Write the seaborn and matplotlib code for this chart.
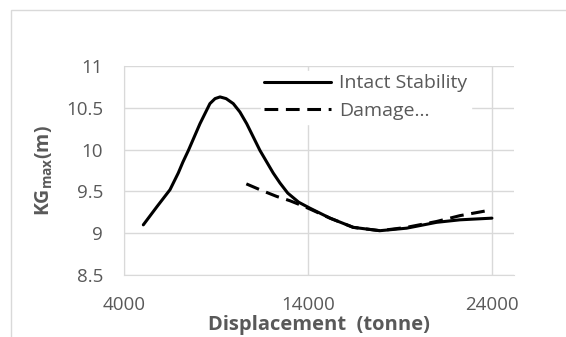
import pandas as pd
import matplotlib.pyplot as plt
import seaborn as sns
from matplotlib.patches import Rectangle

# KGmax curves
intact_disp = [5050, 5800, 6500, 6950, 7200, 7500, 8130, 8670, 8950, 9220, 9550, 9940,
               10300, 10670, 11390, 12110, 12480, 12900, 13500, 14100, 15200, 16460,
               17910, 19360, 20990, 22260, 24000]
intact_kg = [9.10, 9.32, 9.52, 9.72, 9.85, 9.99, 10.31, 10.55, 10.61, 10.63, 10.61, 10.55,
             10.45, 10.31, 9.99, 9.72, 9.60, 9.48, 9.37, 9.30, 9.18, 9.07, 9.03, 9.06,
             9.13, 9.16, 9.18]
damage_disp = [10650, 11500, 12300, 13000, 13570, 14100, 15200, 16460, 17910, 19360,
               20990, 22260, 24000]
damage_kg = [9.59, 9.51, 9.44, 9.39, 9.34, 9.29, 9.18, 9.07, 9.03, 9.07, 9.14, 9.21, 9.28]
x_ticks = [4000, 14000, 24000]
y_ticks = [8.5, 9, 9.5, 10, 10.5, 11]
y_tick_labels = ["8.5", "9", "9.5", "10", "10.5", "11"]

sns.set_style("white")
plt.rcParams['font.family'] = ['Open Sans', 'DejaVu Sans']
grey = "#595959"
grid = "#d9d9d9"

W, H = 566, 337
fig = plt.figure(figsize=(W / 100, H / 100), dpi=100)
fig.patches.append(Rectangle((11 / W, -0.1), 1.2, (H - 10) / H + 0.1,
                             transform=fig.transFigure, fill=False,
                             edgecolor=grid, linewidth=1))
ax = fig.add_axes([124 / W, 1 - 275 / H, (514 - 124) / W, (275 - 66) / H])

sns.lineplot(x=intact_disp, y=intact_kg, ax=ax, color="black", linewidth=2.2,
             label="Intact Stability", sort=False)
sns.lineplot(x=damage_disp, y=damage_kg, ax=ax, color="black", linewidth=2.2,
             linestyle=(0, (4.5, 2.5)), label="Damage...", sort=False)
for ln in ax.get_lines():
    ln.set_solid_joinstyle("round")
    ln.set_solid_capstyle("round")

ax.set_xlim(4000, 25200)
ax.set_ylim(8.5, 11)
ax.set_xticks(x_ticks)
ax.set_yticks(y_ticks)
ax.set_yticklabels(y_tick_labels)
ax.grid(True, color=grid, linewidth=1)
ax.set_axisbelow(True)
for s in ["top", "right"]:
    ax.spines[s].set_visible(False)
for s in ["left", "bottom"]:
    ax.spines[s].set_color(grid)
ax.tick_params(axis="both", length=0, labelsize=13.5, labelcolor=grey)
ax.tick_params(axis="x", pad=15)
ax.tick_params(axis="y", pad=15)

ax.set_xlabel("Displacement  (tonne)", fontsize=14.5, fontweight="bold", color=grey, labelpad=1)
ax.set_ylabel(r"KG$_{\mathregular{max}}$(m)", fontsize=14, fontweight="bold", color=grey, labelpad=8)

leg = ax.legend(loc="upper left", bbox_to_anchor=(0.35, 0.978), frameon=True, fontsize=14,
                handlelength=3.4, handletextpad=0.45, labelspacing=0.5, borderpad=0.2,
                borderaxespad=0)
leg.get_frame().set_edgecolor("white")
leg.get_frame().set_facecolor("white")
leg.get_frame().set_alpha(1)
for t in leg.get_texts():
    t.set_color(grey)

plt.savefig("out.png", dpi=100)
